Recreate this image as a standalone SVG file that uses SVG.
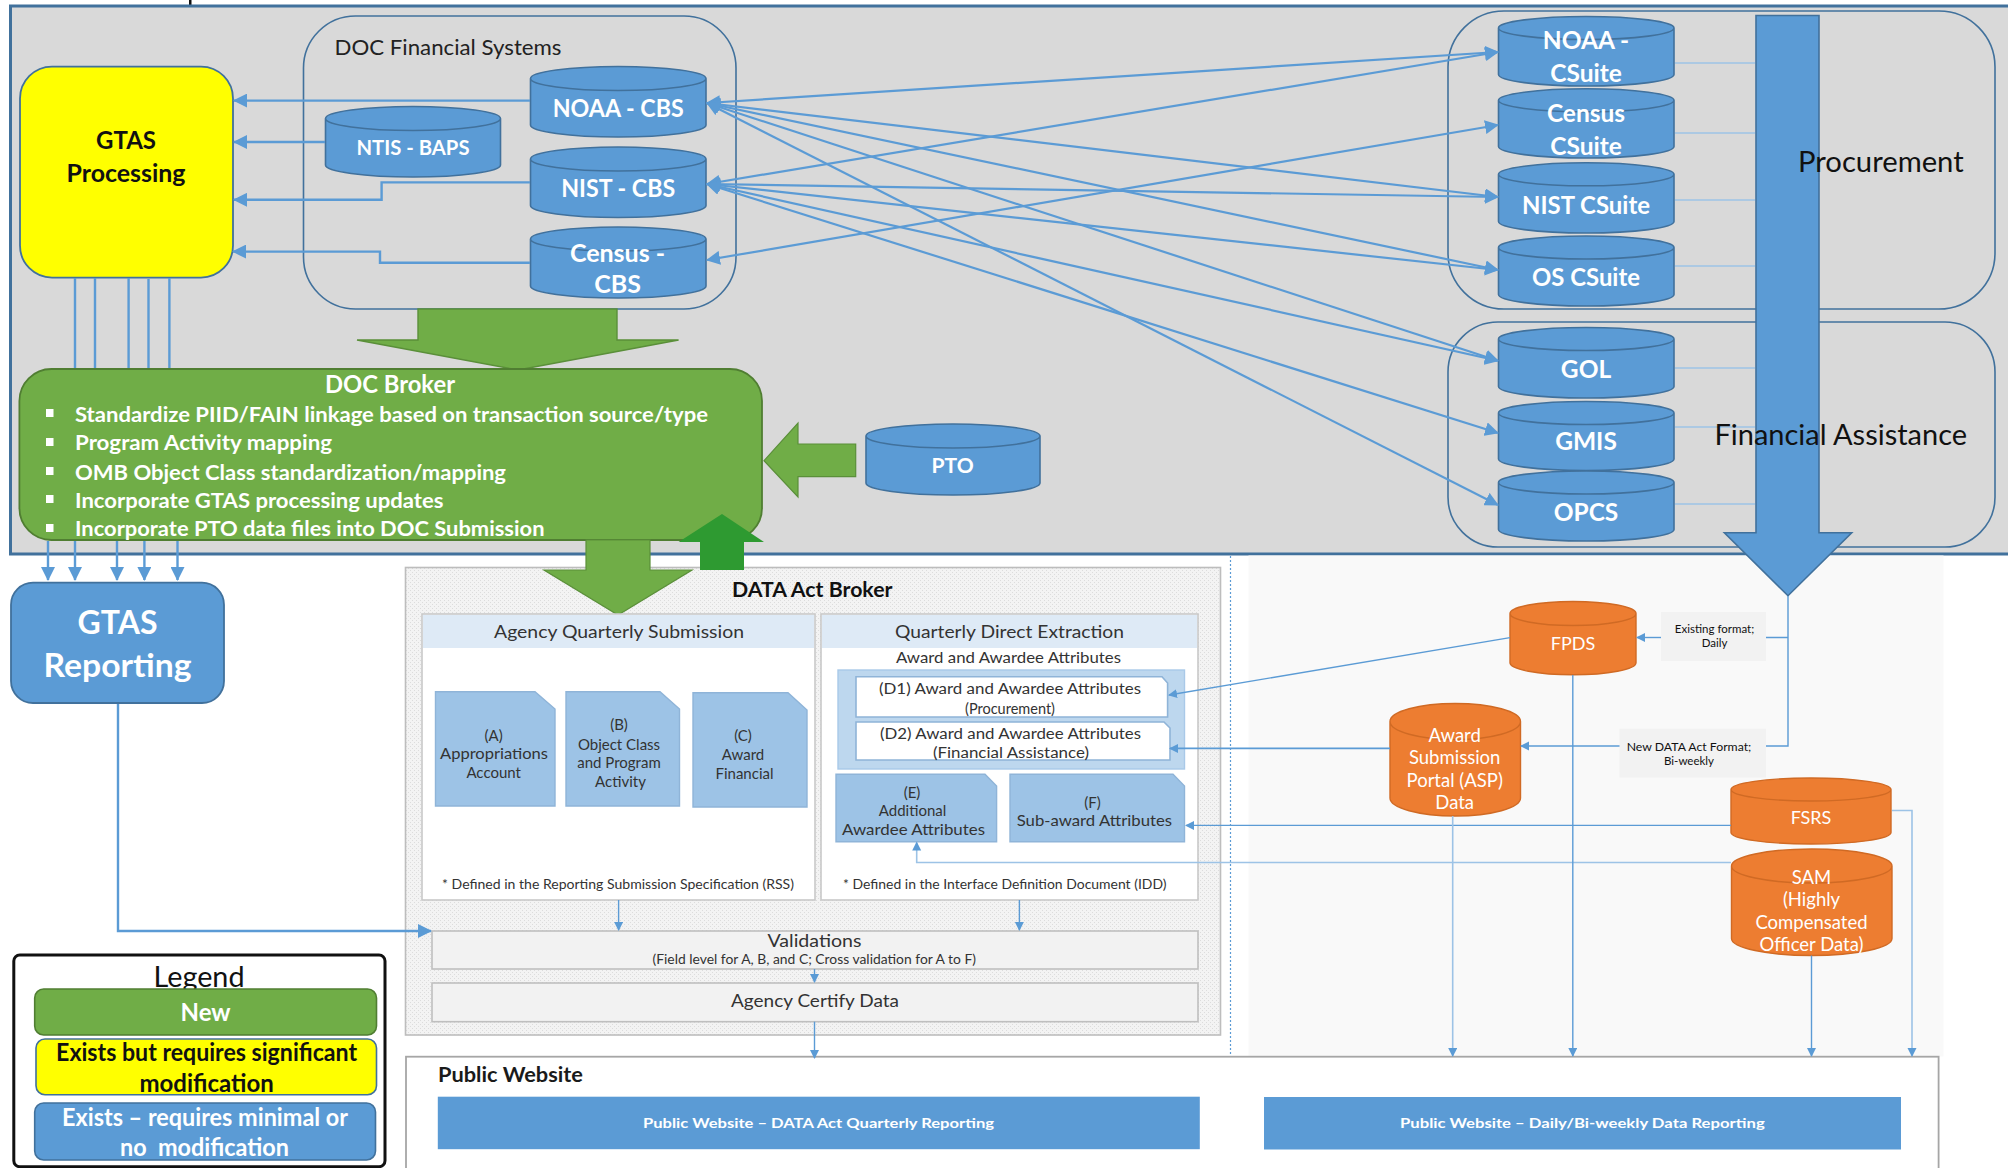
<svg xmlns="http://www.w3.org/2000/svg" width="2008" height="1168" viewBox="0 0 2008 1168">
<style>
text{font-family:Lato,"Open Sans","Liberation Sans",sans-serif;}
.cyl{fill:#5b9bd5;stroke:#41719c;stroke-width:1.6;}
.org{fill:#ed7d31;stroke:#d06a24;stroke-width:1.4;}
.w{fill:#fff;}
.b{font-weight:700;}
.s{font-weight:700;}
.m{text-anchor:middle;}
.k{fill:#111;}
.d{fill:#333;}
.doc{fill:#9dc3e6;stroke:#8fb4d8;stroke-width:1.4;}
.wdoc{fill:#fff;stroke:#8fb4d8;stroke-width:1.6;}
.con{fill:none;stroke:#5b9bd5;stroke-width:2.4;}
.cross{fill:none;stroke:#5b9bd5;stroke-width:2.2;marker-start:url(#ah);marker-end:url(#ah);}
.thin{fill:none;stroke:#5b9bd5;stroke-width:1.4;}
.lite{fill:none;stroke:#9dc3e6;stroke-width:1.6;}
.grp{fill:none;stroke:#41719c;stroke-width:1.6;}
.pane{fill:#fff;stroke:#c9c9c9;stroke-width:1.6;}
.hdr{fill:#deeaf6;}
.gbox{fill:#f2f2f2;stroke:#bfbfbf;stroke-width:1.6;}
</style>
<defs>
<marker id="ah" markerUnits="userSpaceOnUse" markerWidth="15" markerHeight="14" refX="13" refY="7" orient="auto-start-reverse"><path d="M0 0L14 7L0 14Z" fill="#5b9bd5"/></marker>
<marker id="as" markerUnits="userSpaceOnUse" markerWidth="10" markerHeight="10" refX="8" refY="4.5" orient="auto"><path d="M0 0L9 4.5L0 9Z" fill="#5b9bd5"/></marker>
<pattern id="dith" width="4" height="4" patternUnits="userSpaceOnUse"><rect width="4" height="4" fill="#f3f3f3"/><rect width="1" height="1" fill="#dcdcdc"/><rect x="2" y="2" width="1" height="1" fill="#dcdcdc"/></pattern>
</defs>

<rect width="2008" height="1168" fill="#fff"/>
<rect x="189" y="0" width="2.5" height="5" fill="#111"/>
<rect id="panel-top" x="10.5" y="6" width="2010" height="548" fill="#d9d9d9" stroke="#41719c" stroke-width="3"/>
<rect id="panel-right" x="1248.5" y="555.5" width="695" height="501" fill="#f9f9f9"/>
<rect id="panel-data-act" x="405.5" y="567.5" width="815" height="467.5" fill="url(#dith)" stroke="#bdbdbd" stroke-width="1.6"/>
<line x1="1230.5" y1="556" x2="1230.5" y2="1168" stroke="#5b9bd5" stroke-width="1.2" stroke-dasharray="2 2"/>

<g id="group-doc-financial">
<rect class="grp" x="303.5" y="16" width="432.5" height="293" rx="52"/>
<text x="334.5" y="55" font-size="22" fill="#222" textLength="227" lengthAdjust="spacingAndGlyphs">DOC Financial Systems</text>
</g>
<g id="group-procurement"><rect class="grp" x="1448" y="11" width="547" height="298" rx="56"/></g>
<g id="group-financial-assistance"><rect class="grp" x="1448" y="322" width="547" height="225" rx="50"/></g>

<g id="public-website">
<rect x="406" y="1056.7" width="1532.6" height="130" fill="#fff" stroke="#a6a6a6" stroke-width="1.8"/>
<text class="s" x="438" y="1082.2" font-size="20" fill="#1a1a1a" textLength="145" lengthAdjust="spacingAndGlyphs">Public Website</text>
<rect x="437.8" y="1096.7" width="762" height="52.5" fill="#5b9bd5"/>
<text class="w b" x="643" y="1128" font-size="14" textLength="351" lengthAdjust="spacingAndGlyphs">Public Website – DATA Act Quarterly Reporting</text>
<rect x="1264" y="1097" width="637" height="52.5" fill="#5b9bd5"/>
<text class="w b" x="1400" y="1128" font-size="14" textLength="364.7" lengthAdjust="spacingAndGlyphs">Public Website – Daily/Bi-weekly Data Reporting</text>
</g>

<g id="gtas-processing">
<rect x="20" y="66.6" width="213" height="211" rx="32" fill="#ff0" stroke="#41719c" stroke-width="1.8"/>
<text class="k s m" x="126" y="149" font-size="24">GTAS</text>
<text class="k s m" x="126" y="182" font-size="24" textLength="119" lengthAdjust="spacingAndGlyphs">Processing</text>
</g>

<g id="noaa-cbs"><path class="cyl" d="M530.5 78.5A87.75 12 0 0 1 706 78.5V125A87.75 12 0 0 1 530.5 125ZM706 78.5A87.75 12 0 0 1 530.5 78.5"/>
<text class="w s m" x="618.2" y="116.5" font-size="25" textLength="131" lengthAdjust="spacingAndGlyphs">NOAA - CBS</text></g>
<g id="ntis-baps"><path class="cyl" d="M325.5 118.5A87.5 12 0 0 1 500.5 118.5V165A87.5 12 0 0 1 325.5 165ZM500.5 118.5A87.5 12 0 0 1 325.5 118.5"/>
<text class="w s m" x="413" y="155" font-size="21" textLength="113" lengthAdjust="spacingAndGlyphs">NTIS - BAPS</text></g>
<g id="nist-cbs"><path class="cyl" d="M530.5 159A87.75 12 0 0 1 706 159V205.5A87.75 12 0 0 1 530.5 205.5ZM706 159A87.75 12 0 0 1 530.5 159"/>
<text class="w s m" x="618.2" y="197" font-size="25" textLength="114" lengthAdjust="spacingAndGlyphs">NIST - CBS</text></g>
<g id="census-cbs"><path class="cyl" d="M530.5 239A87.75 12 0 0 1 706 239V286A87.75 12 0 0 1 530.5 286ZM706 239A87.75 12 0 0 1 530.5 239"/>
<text class="w s m" x="617.5" y="261.6" font-size="25">Census -</text>
<text class="w s m" x="617.5" y="293" font-size="25">CBS</text></g>

<g id="arrow-systems-to-broker"><path d="M418 309H617V340H678.6L518 370L357 340H418Z" fill="#70ad47" stroke="#5a8f39" stroke-width="1.4"/></g>

<g id="doc-broker">
<rect x="19.4" y="369" width="742.6" height="171" rx="32" fill="#70ad47" stroke="#507e32" stroke-width="1.8"/>
<text class="w s m" x="390" y="393" font-size="24" textLength="130" lengthAdjust="spacingAndGlyphs">DOC Broker</text>
<g fill="#fff"><rect x="46" y="409" width="7.5" height="8"/><rect x="46" y="438" width="7.5" height="8"/><rect x="46" y="467" width="7.5" height="8"/><rect x="46" y="495" width="7.5" height="8"/><rect x="46" y="524" width="7.5" height="8"/></g>
<text class="w b" x="75" y="422" font-size="21" textLength="633" lengthAdjust="spacingAndGlyphs">Standardize PIID/FAIN linkage based on transaction source/type</text>
<text class="w b" x="75" y="450.3" font-size="21" textLength="257" lengthAdjust="spacingAndGlyphs">Program Activity mapping</text>
<text class="w b" x="75" y="479.8" font-size="21" textLength="431" lengthAdjust="spacingAndGlyphs">OMB Object Class standardization/mapping</text>
<text class="w b" x="75" y="508" font-size="21" textLength="368.5" lengthAdjust="spacingAndGlyphs">Incorporate GTAS processing updates</text>
<text class="w b" x="75" y="536" font-size="21" textLength="469.5" lengthAdjust="spacingAndGlyphs">Incorporate PTO data files into DOC Submission</text>
</g>

<g id="arrow-broker-down"><path d="M586 540H650V570H692L618 615L544 570H586Z" fill="#70ad47" stroke="#5a8f39" stroke-width="1.2"/></g>
<g id="arrow-up"><path d="M722 514L764 542H744V570H700V542H678.6Z" fill="#2e9a31"/></g>

<g id="pto"><path class="cyl" d="M866 436A87 12 0 0 1 1040 436V483A87 12 0 0 1 866 483ZM1040 436A87 12 0 0 1 866 436"/>
<text class="w s m" x="952.6" y="473" font-size="21">PTO</text></g>
<g id="arrow-pto"><path d="M855.7 444V476.7H798V497L764 460.7L798 423V444Z" fill="#70ad47" stroke="#5a8f39" stroke-width="1.2"/></g>

<g id="gtas-reporting">
<rect x="11" y="582.7" width="213" height="120.3" rx="22" fill="#5b9bd5" stroke="#41719c" stroke-width="1.8"/>
<text class="w s m" x="117.5" y="634" font-size="32">GTAS</text>
<text class="w s m" x="117.5" y="676.5" font-size="32" textLength="148" lengthAdjust="spacingAndGlyphs">Reporting</text>
</g>

<g id="big-arrow"><path d="M1756 15.5H1819V532.7H1851.7L1788 595.7L1724.4 532.7H1756Z" fill="#5b9bd5" stroke="#41719c" stroke-width="1.6"/></g>

<g id="noaa-csuite"><path class="cyl" d="M1498.5 28A87.75 11.5 0 0 1 1674 28V74.5A87.75 11.5 0 0 1 1498.5 74.5ZM1674 28A87.75 11.5 0 0 1 1498.5 28"/>
<text class="w s m" x="1586" y="49" font-size="24.5">NOAA -</text><text class="w s m" x="1586" y="82" font-size="24.5">CSuite</text></g>
<g id="census-csuite"><path class="cyl" d="M1498.5 100.3A87.75 11.5 0 0 1 1674 100.3V146.5A87.75 11.5 0 0 1 1498.5 146.5ZM1674 100.3A87.75 11.5 0 0 1 1498.5 100.3"/>
<text class="w s m" x="1586" y="122" font-size="24.5">Census</text><text class="w s m" x="1586" y="154.6" font-size="24.5">CSuite</text></g>
<g id="nist-csuite"><path class="cyl" d="M1498.5 174.3A87.75 11.5 0 0 1 1674 174.3V221.5A87.75 11.5 0 0 1 1498.5 221.5ZM1674 174.3A87.75 11.5 0 0 1 1498.5 174.3"/>
<text class="w s m" x="1586" y="213.5" font-size="24.5" textLength="128" lengthAdjust="spacingAndGlyphs">NIST CSuite</text></g>
<g id="os-csuite"><path class="cyl" d="M1498.5 247.5A87.75 11.5 0 0 1 1674 247.5V294.5A87.75 11.5 0 0 1 1498.5 294.5ZM1674 247.5A87.75 11.5 0 0 1 1498.5 247.5"/>
<text class="w s m" x="1586" y="285.6" font-size="24.5" textLength="108" lengthAdjust="spacingAndGlyphs">OS CSuite</text></g>
<g id="gol"><path class="cyl" d="M1498.5 339A87.75 11.5 0 0 1 1674 339V386.5A87.75 11.5 0 0 1 1498.5 386.5ZM1674 339A87.75 11.5 0 0 1 1498.5 339"/>
<text class="w s m" x="1586" y="377.5" font-size="24.5">GOL</text></g>
<g id="gmis"><path class="cyl" d="M1498.5 413A87.75 11.5 0 0 1 1674 413V459A87.75 11.5 0 0 1 1498.5 459ZM1674 413A87.75 11.5 0 0 1 1498.5 413"/>
<text class="w s m" x="1586" y="450" font-size="24.5">GMIS</text></g>
<g id="opcs"><path class="cyl" d="M1498.5 482.5A87.75 11.5 0 0 1 1674 482.5V529.5A87.75 11.5 0 0 1 1498.5 529.5ZM1674 482.5A87.75 11.5 0 0 1 1498.5 482.5"/>
<text class="w s m" x="1586" y="521" font-size="24.5">OPCS</text></g>

<g id="data-act-broker">
<text class="b k" x="732" y="596.7" font-size="20" textLength="160.5" lengthAdjust="spacingAndGlyphs">DATA Act Broker</text>
</g>

<g id="agency-quarterly-submission">
<rect class="pane" x="422" y="614" width="393" height="286"/>
<rect class="hdr" x="423" y="615" width="391" height="33"/>
<text class="d" x="494" y="638" font-size="18" textLength="250" lengthAdjust="spacingAndGlyphs">Agency Quarterly Submission</text>
<text class="d" x="442" y="889" font-size="13" textLength="352" lengthAdjust="spacingAndGlyphs">* Defined in the Reporting Submission Specification (RSS)</text>
</g>
<g id="file-a"><path class="doc" d="M435.5 691.7H535L555 709V806H435.5Z"/>
<text class="d m" x="493.7" y="741" font-size="15">(A)</text><text class="d m" x="494" y="759" font-size="15" textLength="108" lengthAdjust="spacingAndGlyphs">Appropriations</text><text class="d m" x="493.7" y="777.7" font-size="15">Account</text></g>
<g id="file-b"><path class="doc" d="M566 691.7H660L679.5 709V806H566Z"/>
<text class="d m" x="619" y="730" font-size="15">(B)</text><text class="d m" x="619" y="749.7" font-size="15">Object Class</text><text class="d m" x="619" y="768" font-size="15">and Program</text><text class="d m" x="620.5" y="787" font-size="15">Activity</text></g>
<g id="file-c"><path class="doc" d="M693 692.7H788L807 710V807H693Z"/>
<text class="d m" x="743" y="741" font-size="15">(C)</text><text class="d m" x="743" y="760" font-size="15">Award</text><text class="d m" x="744.5" y="778.7" font-size="15">Financial</text></g>

<g id="quarterly-direct-extraction">
<rect class="pane" x="821" y="614" width="377" height="286"/>
<rect class="hdr" x="822" y="615" width="375" height="33"/>
<text class="d" x="895" y="638" font-size="18" textLength="229" lengthAdjust="spacingAndGlyphs">Quarterly Direct Extraction</text>
<text class="d" x="896" y="662.7" font-size="15" textLength="225" lengthAdjust="spacingAndGlyphs">Award and Awardee Attributes</text>
<rect x="838" y="670" width="346.5" height="99" fill="#bdd7ee" stroke="#a9c9e8" stroke-width="1.4"/>
<text class="d" x="843" y="889" font-size="13" textLength="323.5" lengthAdjust="spacingAndGlyphs">* Defined in the Interface Definition Document (IDD)</text>
</g>
<g id="file-d1"><path class="wdoc" d="M856 676.7H1162L1167.6 683V717H856Z"/>
<text class="d" x="879" y="694" font-size="14.5" textLength="262" lengthAdjust="spacingAndGlyphs">(D1) Award and Awardee Attributes</text><text class="d m" x="1010" y="713.5" font-size="14.5">(Procurement)</text></g>
<g id="file-d2"><path class="wdoc" d="M856 722H1164L1170 728V760H856Z"/>
<text class="d" x="880" y="739" font-size="14.5" textLength="261" lengthAdjust="spacingAndGlyphs">(D2) Award and Awardee Attributes</text><text class="d" x="933" y="758" font-size="14.5" textLength="156" lengthAdjust="spacingAndGlyphs">(Financial Assistance)</text></g>
<g id="file-e"><path class="doc" d="M836 774.3H985L996.6 786V841.7H836Z"/>
<text class="d m" x="912" y="798" font-size="15">(E)</text><text class="d m" x="912.5" y="816" font-size="15">Additional</text><text class="d m" x="913.5" y="835" font-size="15" textLength="143" lengthAdjust="spacingAndGlyphs">Awardee Attributes</text></g>
<g id="file-f"><path class="doc" d="M1010 774.3H1173L1184.5 786V841.7H1010Z"/>
<text class="d m" x="1092.4" y="808" font-size="15">(F)</text><text class="d" x="1016.7" y="825.7" font-size="15" textLength="155.3" lengthAdjust="spacingAndGlyphs">Sub-award Attributes</text></g>

<g id="validations">
<rect class="gbox" x="432" y="931" width="766" height="38"/>
<text class="d m" x="814.5" y="947" font-size="18" textLength="94" lengthAdjust="spacingAndGlyphs">Validations</text>
<text class="d" x="652.5" y="964" font-size="13" textLength="323.5" lengthAdjust="spacingAndGlyphs">(Field level for A, B, and C; Cross validation for A to F)</text>
</g>
<g id="agency-certify">
<rect class="gbox" x="432" y="983" width="766" height="38.7"/>
<text class="d" x="731" y="1006.7" font-size="18" textLength="168" lengthAdjust="spacingAndGlyphs">Agency Certify Data</text>
</g>

<g id="fpds"><path class="org" d="M1510 613.5A63 12 0 0 1 1636 613.5V662.8A63 12 0 0 1 1510 662.8ZM1636 613.5A63 12 0 0 1 1510 613.5"/>
<text class="w m" x="1573" y="650" font-size="18">FPDS</text></g>
<g id="asp"><path class="org" d="M1390 721.5A65.25 18 0 0 1 1520.5 721.5V798A65.25 18 0 0 1 1390 798ZM1520.5 721.5A65.25 18 0 0 1 1390 721.5"/>
<text class="w m" x="1454.7" y="742" font-size="18.5">Award</text><text class="w m" x="1454.7" y="764.3" font-size="18.5">Submission</text><text class="w m" x="1454.7" y="787" font-size="18.5">Portal (ASP)</text><text class="w m" x="1454.7" y="809" font-size="18.5">Data</text></g>
<g id="fsrs"><path class="org" d="M1731 789.5A80 11.5 0 0 1 1891 789.5V832.5A80 11.5 0 0 1 1731 832.5ZM1891 789.5A80 11.5 0 0 1 1731 789.5"/>
<text class="w m" x="1811" y="823.7" font-size="18">FSRS</text></g>
<g id="sam"><path class="org" d="M1731.5 866A80 17 0 0 1 1892 866V938.5A80 17 0 0 1 1731.5 938.5ZM1892 866A80 17 0 0 1 1731.5 866"/>
<text class="w m" x="1811.5" y="883.8" font-size="18.5">SAM</text><text class="w m" x="1811.5" y="906" font-size="18.5">(Highly</text><text class="w m" x="1811.5" y="929" font-size="18.5">Compensated</text><text class="w m" x="1811.5" y="951" font-size="18.5">Officer Data)</text></g>

<g id="label-existing-format">
<rect x="1661" y="612" width="105" height="49" fill="#f2f2f2"/>
<text class="k m" x="1714.5" y="633" font-size="11.5">Existing format;</text><text class="k m" x="1714.5" y="647" font-size="11.5">Daily</text>
</g>
<g id="label-new-format">
<rect x="1619.5" y="728.7" width="146.5" height="48.8" fill="#f2f2f2"/>
<text class="k m" x="1689" y="750.8" font-size="11.5" textLength="124.6" lengthAdjust="spacingAndGlyphs">New DATA Act Format;</text><text class="k m" x="1689" y="764.7" font-size="11.5">Bi-weekly</text>
</g>

<g id="legend">
<rect x="13.8" y="955" width="371.2" height="211.7" rx="6" fill="#fff" stroke="#111" stroke-width="3"/>
<text class="k m" x="199" y="987" font-size="29" textLength="91" lengthAdjust="spacingAndGlyphs">Legend</text>
<rect x="34.7" y="989" width="341.8" height="46" rx="9" fill="#70ad47" stroke="#507e32" stroke-width="1.6"/>
<text class="w s m" x="205.6" y="1020.5" font-size="24">New</text>
<rect x="36" y="1039" width="340.5" height="55.7" rx="9" fill="#ff0" stroke="#41719c" stroke-width="1.6"/>
<text class="k s m" x="206.6" y="1060.5" font-size="24" textLength="301" lengthAdjust="spacingAndGlyphs">Exists but requires significant</text>
<text class="k s m" x="206.6" y="1091.5" font-size="24">modification</text>
<rect x="34.7" y="1103" width="340.8" height="57" rx="9" fill="#5b9bd5" stroke="#41719c" stroke-width="1.6"/>
<text class="w s m" x="205" y="1125.5" font-size="24" textLength="286" lengthAdjust="spacingAndGlyphs">Exists – requires minimal or</text>
<text class="w s m" x="204.5" y="1155.5" font-size="24" textLength="169" lengthAdjust="spacingAndGlyphs" xml:space="preserve">no  modification</text>
</g>

<g id="connectors">
<line class="con" x1="530" y1="100.6" x2="234" y2="100.6" marker-end="url(#ah)"/>
<line class="con" x1="325" y1="142" x2="234" y2="142" marker-end="url(#ah)"/>
<path class="con" d="M530 182.4H381.6V199.8H234" marker-end="url(#ah)"/>
<path class="con" d="M530 262.7H380V251.6H233" marker-end="url(#ah)"/>
<path class="con" d="M75 278V368M95 278V368M128.6 278V368M148.5 279V368M169.4 278V368"/>
<line class="con" x1="48" y1="541" x2="48" y2="580" marker-end="url(#ah)"/>
<line class="con" x1="75" y1="541" x2="75" y2="580" marker-end="url(#ah)"/>
<line class="con" x1="117" y1="541" x2="117" y2="580" marker-end="url(#ah)"/>
<line class="con" x1="144.4" y1="541" x2="144.4" y2="580" marker-end="url(#ah)"/>
<line class="con" x1="177.5" y1="541" x2="177.5" y2="580" marker-end="url(#ah)"/>
<path class="con" d="M118 704V931H431" marker-end="url(#ah)"/>

<line class="cross" x1="707" y1="103" x2="1498" y2="52"/>
<line class="cross" x1="707" y1="103" x2="1498" y2="197"/>
<line class="cross" x1="707" y1="103" x2="1498" y2="270"/>
<line class="cross" x1="707" y1="103" x2="1498" y2="360.7"/>
<line class="cross" x1="707" y1="103" x2="1498" y2="505"/>
<line class="cross" x1="707" y1="184" x2="1498" y2="52"/>
<line class="cross" x1="707" y1="184" x2="1498" y2="197"/>
<line class="cross" x1="707" y1="184" x2="1498" y2="270"/>
<line class="cross" x1="707" y1="184" x2="1498" y2="360.7"/>
<line class="cross" x1="707" y1="184" x2="1498" y2="433"/>
<line class="cross" x1="707" y1="260" x2="1498" y2="125"/>

<path class="lite" d="M1675 63H1755M1675 133H1755M1675 200H1755M1675 266H1755M1675 368H1755M1675 427H1755M1675 504H1755"/>

<path class="thin" d="M1788 596V746H1766M1788 637.5H1766"/>
<path class="thin" d="M1661 637.5H1637" marker-end="url(#as)"/>
<path class="thin" d="M1619.5 746H1521" marker-end="url(#as)"/>
<path class="thin" d="M1510 637.6L1169 695" marker-end="url(#as)"/>
<path class="con" style="stroke-width:1.6" d="M1390 748.4H1170" marker-end="url(#as)"/>
<path class="thin" d="M1731 825.4H1186" marker-end="url(#as)"/>
<path class="lite" d="M1731 862.5H916.7V842.5" marker-end="url(#as)"/>
<path class="thin" d="M1572.8 675V1056" marker-end="url(#as)"/>
<path class="lite" d="M1452.7 816V1056" marker-end="url(#as)"/>
<path class="thin" d="M1811.5 955.5V1056" marker-end="url(#as)"/>
<path class="lite" d="M1892 810.5H1912V1056" marker-end="url(#as)"/>
<path class="thin" d="M618.6 900V930" marker-end="url(#as)"/>
<path class="thin" d="M1019.4 900V930" marker-end="url(#as)"/>
<path class="thin" d="M814.5 969V982" marker-end="url(#as)"/>
<path class="thin" d="M814.5 1021.7V1058" marker-end="url(#as)"/>
</g>

<text id="label-procurement" class="k" x="1798" y="171.7" font-size="29" textLength="165.7" lengthAdjust="spacingAndGlyphs">Procurement</text>
<text id="label-financial-assistance" class="k" x="1714.5" y="444.7" font-size="29" textLength="252.5" lengthAdjust="spacingAndGlyphs">Financial Assistance</text>
</svg>
